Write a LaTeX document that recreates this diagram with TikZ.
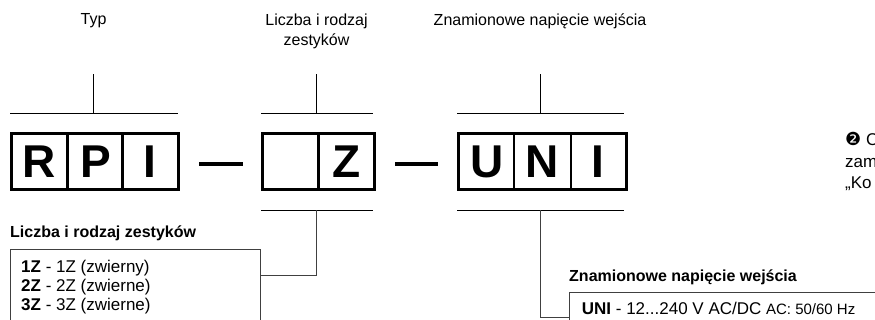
\documentclass[tikz,border=0pt]{standalone}
\usepackage{fontspec}
\setmainfont{Liberation Sans}
\newfontfamily\symbfont{DejaVu Sans}
\usetikzlibrary{positioning}

\tikzset{
    letter/.style={font=\fontsize{46}{46}\selectfont\bfseries, inner sep=0pt, anchor=base},
    caption/.style={font=\fontsize{16}{20}\selectfont, align=center, inner sep=0pt},
    heading/.style={font=\fontsize{16}{19}\selectfont\bfseries, inner sep=0pt, anchor=base west},
    entry/.style={font=\fontsize{17}{19}\selectfont, align=left, inner sep=0pt, anchor=base west},
    box/.style={line width=3pt},
    divider/.style={line width=2.2pt},
    rule/.style={line width=1.3pt},
    lead/.style={line width=1pt, black!75}
}

\begin{document}
\begin{tikzpicture}[x=1pt, y=-1pt]
    \path[use as bounding box, clip] (0,0) rectangle (875,320);

    % Captions
    \node[caption] (TypLabel) at (93.5,21) {Typ};
    \node[caption] (ZesLabel) at (316.5,31) {Liczba i rodzaj\\zestyków};
    \node[caption] (NapLabel) at (540,21) {Znamionowe napięcie wejścia};

    % Coordinates
    \coordinate (T1) at (93.7,74.5);
    \coordinate (T2) at (93.7,113.7);
    \coordinate (Z1) at (316.7,74.5);
    \coordinate (Z2) at (316.7,113.7);
    \coordinate (U1) at (540.3,74.5);
    \coordinate (U2) at (540.3,113.7);
    \coordinate (Z3) at (316.7,210.5);
    \coordinate (Z4) at (316.7,276);
    \coordinate (U3) at (540.3,210.5);
    \coordinate (U4) at (540.3,317.7);

    % Upper rules
    \draw[rule] (10,113.7) -- (178,113.7);
    \draw[rule] (261,113.7) -- (372.5,113.7);
    \draw[rule] (457,113.7) -- (623.5,113.7);
    \draw[rule] (T1) -- (T2);
    \draw[rule] (Z1) -- (Z2);
    \draw[rule] (U1) -- (U2);

    % Letter boxes
    \draw[box] (11.5,133.8) rectangle (178,189.2);
    \draw[divider] (67.5,133.8) -- (67.5,189.2);
    \draw[divider] (122.5,133.8) -- (122.5,189.2);
    \draw[box] (262.5,133.8) rectangle (374.2,189.2);
    \draw[divider] (318.5,133.8) -- (318.5,189.2);
    \draw[box] (458.5,133.8) rectangle (626.2,189.2);
    \draw[divider] (514.3,133.8) -- (514.3,189.2);
    \draw[divider] (570.7,133.8) -- (570.7,189.2);

    % Letters
    \node[letter] (R) at (38.7,178) {R};
    \node[letter] (P) at (95.5,178) {P};
    \node[letter] (I1) at (150,178) {I};
    \node[letter] (Z) at (346.7,178) {Z};
    \node[letter] (U) at (486.7,178) {U};
    \node[letter] (N) at (542.3,178) {N};
    \node[letter] (I2) at (598.3,178) {I};

    % Dashes between boxes
    \draw[line width=4pt] (199,164) -- (243,164);
    \draw[line width=4pt] (395,164) -- (438,164);

    % Lower rules
    \draw[rule] (261,210.5) -- (372.5,210.5);
    \draw[rule] (457,210.5) -- (623.5,210.5);

    % Option tables
    \node[heading] (ZesHead) at (10,238) {Liczba i rodzaj zestyków};
    \draw[lead] (260.7,340) -- (260.7,250) -- (10,250) -- (10,340);
    \node[entry] (ZesList) at (21,310.7) {\textbf{1Z} - 1Z (zwierny)\\\textbf{2Z} - 2Z (zwierne)\\\textbf{3Z} - 3Z (zwierne)};
    \node[heading] (NapHead) at (569,281) {Znamionowe napięcie wejścia};
    \draw[lead] (569,340) -- (569,292.3) -- (890,292.3);
    \node[entry] (NapList) at (581.7,314) {\textbf{UNI} - 12...240 V AC/DC {\fontsize{15}{15}\selectfont AC: 50/60 Hz}};

    % Leads down to the tables
    \draw[lead] (Z3) -- (Z4) -- (260.7,276);
    \draw[lead] (U3) -- (U4) -- (569,317.7);

    % Cut-off note on the right
    \node[entry, font=\fontsize{17}{21.5}\selectfont] (Note) at (845,189) {{\symbfont\fontsize{18}{18}\selectfont ❷} C\\zam\\„Ko};
\end{tikzpicture}
\end{document}
